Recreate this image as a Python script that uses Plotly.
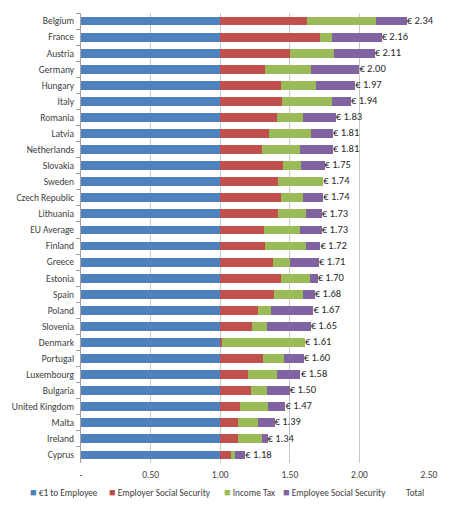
import plotly.graph_objects as go

countries = ["Belgium", "France", "Austria", "Germany", "Hungary", "Italy", "Romania",
             "Latvia", "Netherlands", "Slovakia", "Sweden", "Czech Republic", "Lithuania",
             "EU Average", "Finland", "Greece", "Estonia", "Spain", "Poland", "Slovenia",
             "Denmark", "Portugal", "Luxembourg", "Bulgaria", "United Kingdom", "Malta",
             "Ireland", "Cyprus"]

employee = [1.0] * len(countries)
employer_ss = [0.62, 0.715, 0.50, 0.32, 0.44, 0.446, 0.405, 0.35, 0.30, 0.453, 0.415, 0.44,
               0.415, 0.317, 0.32, 0.376, 0.436, 0.386, 0.271, 0.225, 0.01, 0.309, 0.20,
               0.22, 0.144, 0.125, 0.13, 0.074]
income_tax = [0.50, 0.09, 0.32, 0.33, 0.25, 0.357, 0.19, 0.305, 0.275, 0.125, 0.325, 0.155,
              0.20, 0.256, 0.293, 0.123, 0.209, 0.209, 0.096, 0.108, 0.60, 0.149, 0.21,
              0.113, 0.20, 0.144, 0.17, 0.029]
employee_ss = [0.22, 0.355, 0.29, 0.35, 0.28, 0.137, 0.235, 0.155, 0.235, 0.172, 0.0, 0.145,
               0.115, 0.157, 0.107, 0.211, 0.055, 0.085, 0.303, 0.317, 0.0, 0.142, 0.166,
               0.167, 0.123, 0.124, 0.04, 0.072]
totals = [2.34, 2.16, 2.11, 2.00, 1.97, 1.94, 1.83, 1.81, 1.81, 1.75, 1.74, 1.74, 1.73,
          1.73, 1.72, 1.71, 1.70, 1.68, 1.67, 1.65, 1.61, 1.60, 1.58, 1.50, 1.47, 1.39,
          1.34, 1.18]

series_names = ["€1 to Employee", "Employer Social Security", "Income Tax",
                "Employee Social Security"]
series_values = [employee, employer_ss, income_tax, employee_ss]
colors = ["#4F81BD", "#C0504D", "#9BBB59", "#8064A2"]

tick_vals = [0, 0.5, 1.0, 1.5, 2.0, 2.5]
tick_text = ["-", "0.50", "1.00", "1.50", "2.00", "2.50"]

FONT = "Carlito, Lato"
TXT = "#404040"

fig = go.Figure()
for name, vals, col in zip(series_names, series_values, colors):
    fig.add_trace(go.Bar(y=countries, x=vals, name=name, orientation="h",
                         marker=dict(color=col, line=dict(width=0)), showlegend=False))

fig.add_trace(go.Scatter(y=countries, x=totals, mode="text", name="Total",
                         text=["€ %.2f" % t for t in totals], textposition="middle right",
                         textfont=dict(family=FONT, size=10.5, color="#262626"),
                         showlegend=False, cliponaxis=False))

n = len(countries)
fig.update_layout(
    width=450, height=508,
    barmode="stack", bargap=0.45,
    paper_bgcolor="white", plot_bgcolor="white",
    margin=dict(l=73, r=29, t=5, b=53),
    font=dict(family=FONT, size=9.5, color=TXT),
    xaxis=dict(range=[0, 2.5], tickvals=tick_vals, ticktext=tick_text, automargin=False,
               showgrid=True, gridcolor="#C8C8C8", gridwidth=1, zeroline=False,
               showline=False, ticks="", ticklabelstandoff=4,
               tickfont=dict(size=9.5, color=TXT)),
    yaxis=dict(range=[n - 0.5, -0.5], showline=True, linecolor="#A0A0A0", linewidth=1,
               automargin=False, ticks="outside", tickson="boundaries", ticklen=4,
               tickcolor="#A0A0A0", showgrid=False, tickfont=dict(size=9.5, color=TXT),
               ticklabelstandoff=4),
)

# Legend drawn as a single row (Excel-style) below the axis
legend_px = [28, 107, 222, 281]
for name, col, px in zip(series_names, colors, legend_px):
    fig.add_annotation(xref="paper", yref="paper", x=(px - 81) / 348, y=-0.066,
                       xanchor="left", yanchor="middle", showarrow=False,
                       text='<span style="color:%s;font-size:11px">■</span> %s' % (col, name),
                       font=dict(family=FONT, size=9.3, color=TXT))
fig.add_annotation(xref="paper", yref="paper", x=(404 - 81) / 348, y=-0.066,
                   xanchor="left", yanchor="middle", showarrow=False, text="Total",
                   font=dict(family=FONT, size=9.3, color=TXT))

fig.write_html("out.html")
